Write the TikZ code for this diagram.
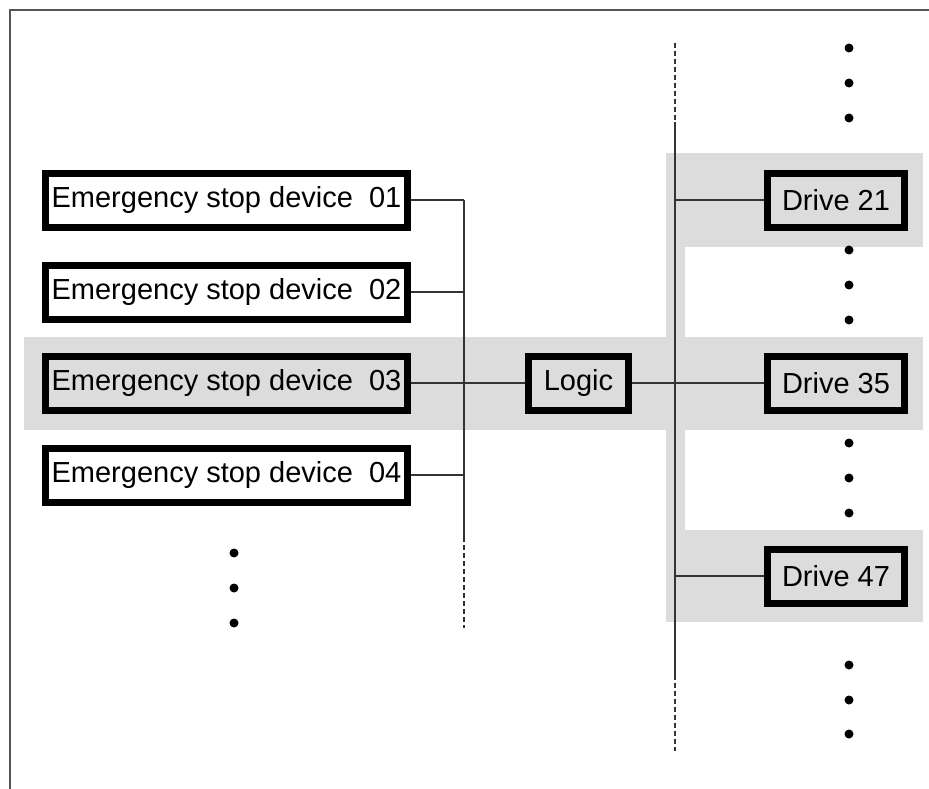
\documentclass[tikz,border=0pt]{standalone}
\usepackage{fontspec}
\setmainfont{Liberation Sans}
\definecolor{bandgray}{HTML}{DCDCDC}
\definecolor{wiregray}{HTML}{333333}
\definecolor{framegray}{HTML}{555555}
\tikzset{
  unit/.style={draw=black, line width=7pt, inner sep=0pt, minimum height=54pt,
    font=\fontsize{29}{34}\selectfont},
  wire/.style={draw=wiregray, line width=1.1pt},
  dashwire/.style={wire, dash pattern=on 5pt off 3pt},
  band/.style={fill=bandgray, draw=none},
  ellipsisdot/.style={fill=black, draw=none},
}
\begin{document}
\begin{tikzpicture}[x=1pt, y=-1pt]
\useasboundingbox (0,0) rectangle (929,789);

% frame (top and left edges)
\draw[framegray, line width=1.5pt] (929,10) -- (10,10) -- (10,789);

% grey highlight bands
\fill[band] (24,337) rectangle (666,430);
\fill[band] (666,153) rectangle (685,622);
\fill[band] (666,153) rectangle (923,247);
\fill[band] (666,337) rectangle (923,430);
\fill[band] (666,530) rectangle (923,622);

% emergency stop devices
\node[unit, minimum width=362pt] (d1) at (226.5,200) {Emergency stop device\ \ 01};
\node[unit, minimum width=362pt] (d2) at (226.5,292) {Emergency stop device\ \ 02};
\node[unit, minimum width=362pt] (d3) at (226.5,383) {Emergency stop device\ \ 03};
\node[unit, minimum width=362pt] (d4) at (226.5,475) {Emergency stop device\ \ 04};

% logic and drives
\node[unit, minimum width=100pt] (logic) at (578.5,383) {Logic};
\node[unit, minimum width=137pt] (dr21) at (836,200) {Drive 21};
\node[unit, minimum width=137pt] (dr35) at (836,383) {Drive 35};
\node[unit, minimum width=137pt] (dr47) at (836,576) {Drive 47};

% input bus
\coordinate (inTop) at (464,200);
\coordinate (inEnd) at (464,537);
\coordinate (inDash) at (464,628);
\draw[wire] (inTop) -- (inEnd);
\draw[dashwire] (inEnd) -- (inDash);
\draw[wire] (d1.east) -- (inTop);
\draw[wire] (d2.east) -- (d2.east -| inTop);
\draw[wire] (d3.east) -- (logic.west);
\draw[wire] (d4.east) -- (d4.east -| inTop);

% output bus
\coordinate (outDashTop) at (675,43);
\coordinate (outTop) at (675,122);
\coordinate (outEnd) at (675,675);
\coordinate (outDashEnd) at (675,751);
\draw[dashwire] (outDashTop) -- (outTop);
\draw[wire] (outTop) -- (outEnd);
\draw[dashwire] (outEnd) -- (outDashEnd);
\draw[wire] (dr21.west -| outTop) -- (dr21.west);
\draw[wire] (logic.east) -- (dr35.west);
\draw[wire] (dr47.west -| outTop) -- (dr47.west);

% continuation dots
\foreach \y in {48,83,118,250,285,320,443,478,513,665,700,734}
  \fill[ellipsisdot] (849,\y) circle (4.5pt);
\foreach \y in {553,588,623}
  \fill[ellipsisdot] (234,\y) circle (4.5pt);
\end{tikzpicture}
\end{document}
